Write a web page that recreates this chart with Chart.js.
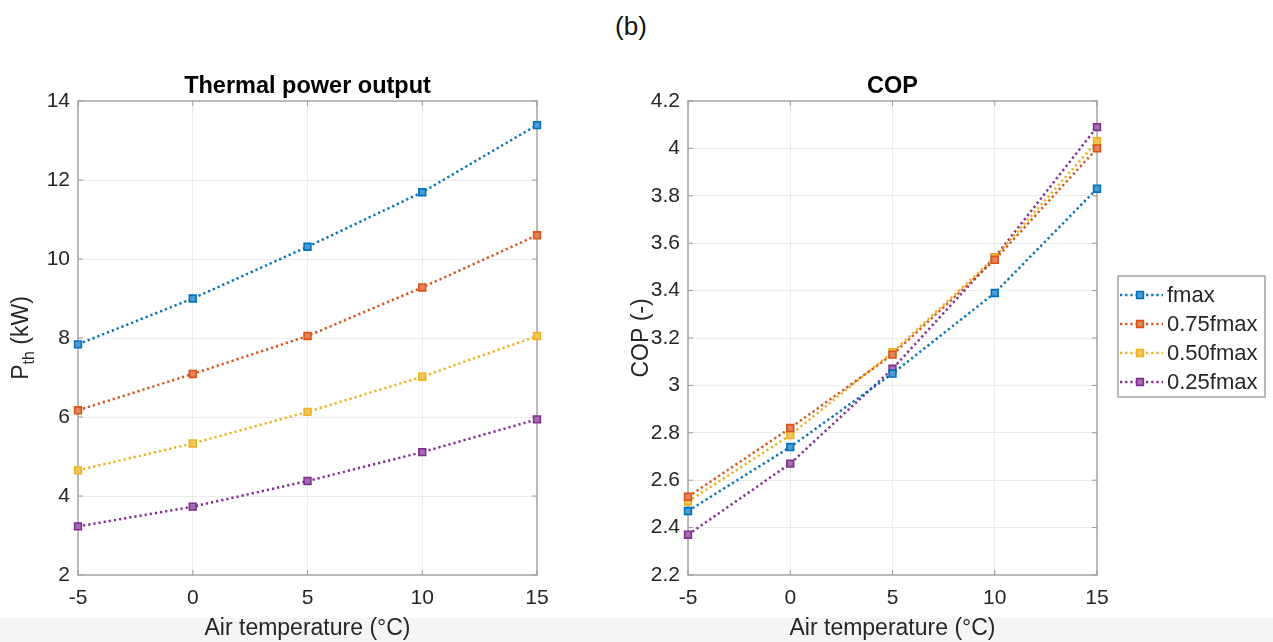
<!DOCTYPE html>
<html><head><meta charset="utf-8">
<script src="https://cdn.jsdelivr.net/npm/chart.js@4/dist/chart.umd.min.js"></script>
<style>
html,body{margin:0;padding:0;background:#fff;width:1273px;height:642px;overflow:hidden;font-family:"Liberation Sans",Arial,sans-serif;}
#band{position:absolute;left:0;top:618px;width:1273px;height:24px;background:#f5f5f5;}
#lbl{position:absolute;left:0;width:1262px;top:11px;text-align:center;font-size:26px;line-height:30px;color:#111;}
canvas{position:absolute;top:0;}
</style></head><body>
<div id="band"></div>
<div id="lbl">(b)</div>
<canvas id="c1" width="600" height="642" style="left:0"></canvas>
<canvas id="c2" width="673" height="642" style="left:600px"></canvas>
<script>
// ---- data ----
const temperatures = [-5, 0, 5, 10, 15];
const seriesNames = ['fmax', '0.75fmax', '0.50fmax', '0.25fmax'];
const seriesColors = ['#0072BD', '#D95319', '#EDB120', '#7E2F8E'];
const markerFills = ['#4d9bd1', '#e4855c', '#f2c65f', '#a56cb0'];

const powerFmax = [7.84, 9.00, 10.31, 11.69, 13.39];
const power075 = [6.17, 7.09, 8.05, 9.28, 10.60];
const power050 = [4.65, 5.33, 6.13, 7.02, 8.05];
const power025 = [3.23, 3.73, 4.38, 5.11, 5.94];

const copFmax = [2.47, 2.74, 3.05, 3.39, 3.83];
const cop075 = [2.53, 2.82, 3.13, 3.53, 4.00];
const cop050 = [2.51, 2.79, 3.14, 3.54, 4.03];
const cop025 = [2.37, 2.67, 3.07, 3.54, 4.09];

const xTicks = [-5, 0, 5, 10, 15];
const yTicksPower = [2, 4, 6, 8, 10, 12, 14];
const yTicksCop = [2.2, 2.4, 2.6, 2.8, 3.0, 3.2, 3.4, 3.6, 3.8, 4.0, 4.2];

// ---- helpers ----
const FONT = '"Liberation Sans", Arial, sans-serif';
const TXT = '#262626';

function makeDatasets(seriesList) {
  return seriesList.map((vals, i) => ({
    label: seriesNames[i],
    data: temperatures.map((t, j) => ({x: t, y: vals[j]})),
    borderColor: seriesColors[i],
    backgroundColor: markerFills[i],
    pointBackgroundColor: markerFills[i],
    pointBorderColor: seriesColors[i],
    borderWidth: 2.5,
    borderDash: [2.2, 3],
    pointStyle: 'rect',
    pointRadius: 4.8,
    pointBorderWidth: 1.6,
    tension: 0,
    clip: false
  }));
}

const boxPlugin = {
  id: 'boxPlugin',
  beforeDatasetsDraw(chart) {
    const {ctx, chartArea: a} = chart;
    ctx.save();
    ctx.strokeStyle = '#a8a8a8';
    ctx.lineWidth = 1.5;
    ctx.strokeRect(a.left, a.top, a.right - a.left, a.bottom - a.top);
    ctx.lineWidth = 1;
    ctx.strokeStyle = '#9a9a9a';
    const xs = chart.scales.x, ys = chart.scales.y;
    xs.ticks.forEach(t => {
      const px = xs.getPixelForValue(t.value);
      ctx.beginPath();
      ctx.moveTo(px, a.bottom); ctx.lineTo(px, a.bottom - 5);
      ctx.moveTo(px, a.top); ctx.lineTo(px, a.top + 5);
      ctx.stroke();
    });
    ys.ticks.forEach(t => {
      const py = ys.getPixelForValue(t.value);
      ctx.beginPath();
      ctx.moveTo(a.left, py); ctx.lineTo(a.left + 5, py);
      ctx.moveTo(a.right, py); ctx.lineTo(a.right - 5, py);
      ctx.stroke();
    });
    ctx.restore();
  }
};

function yTitlePlugin(cx, parts) {
  return {
    id: 'yTitle',
    afterDraw(chart) {
      const {ctx, chartArea: a} = chart;
      const cy = (a.top + a.bottom) / 2;
      ctx.save();
      ctx.translate(cx, cy);
      ctx.rotate(-Math.PI / 2);
      ctx.fillStyle = TXT;
      ctx.textBaseline = 'middle';
      ctx.textAlign = 'left';
      let total = 0;
      parts.forEach(p => { ctx.font = p.size + 'px ' + FONT; p.w = ctx.measureText(p.text).width; total += p.w; });
      let x = -total / 2;
      parts.forEach(p => {
        ctx.font = p.size + 'px ' + FONT;
        ctx.fillText(p.text, x, p.dy || 0);
        x += p.w;
      });
      ctx.restore();
    }
  };
}

const legendPlugin = {
  id: 'boxLegend',
  afterDraw(chart) {
    const {ctx} = chart;
    const bx = 1118 - 600, by = 276, bw = 147, bh = 121;
    ctx.save();
    ctx.fillStyle = '#fff';
    ctx.fillRect(bx, by, bw, bh);
    ctx.strokeStyle = '#8a8a8a';
    ctx.lineWidth = 1.2;
    ctx.strokeRect(bx, by, bw, bh);
    chart.data.datasets.forEach((ds, i) => {
      const y = by + 19 + i * 29;
      ctx.strokeStyle = ds.borderColor;
      ctx.lineWidth = 2.5;
      ctx.setLineDash([2.2, 3]);
      ctx.beginPath();
      ctx.moveTo(bx + 2, y); ctx.lineTo(bx + 45, y);
      ctx.stroke();
      ctx.setLineDash([]);
      ctx.fillStyle = ds.pointBackgroundColor;
      ctx.lineWidth = 1.6;
      ctx.beginPath();
      ctx.rect(bx + 22 - 3.4, y - 3.4, 6.8, 6.8);
      ctx.fill(); ctx.stroke();
      ctx.fillStyle = TXT;
      ctx.font = '22px ' + FONT;
      ctx.textBaseline = 'middle';
      ctx.textAlign = 'left';
      ctx.fillText(ds.label, bx + 49, y + 1);
    });
    ctx.restore();
  }
};

function makeOptions(titleText, yTicks, yWidth, rightPad, fmt) {
  return {
    responsive: false,
    animation: false,
    devicePixelRatio: 1,
    layout: {padding: {left: 0, right: rightPad, top: 0, bottom: 0}},
    plugins: {
      legend: {display: false},
      tooltip: {enabled: false},
      title: {
        display: true, text: titleText, fullSize: false,
        color: '#000', font: {family: FONT, size: 23.5, weight: 'bold'},
        padding: {top: 72, bottom: 0.8}
      }
    },
    scales: {
      x: {
        type: 'linear', min: -5, max: 15,
        afterBuildTicks: s => { s.ticks = xTicks.map(v => ({value: v})); },
        afterFit: s => { s.height = 67; },
        grid: {color: '#ebebeb', lineWidth: 1, drawTicks: false},
        border: {display: false},
        ticks: {color: TXT, font: {family: FONT, size: 21}, padding: 11, maxRotation: 0},
        title: {display: true, text: 'Air temperature (°C)', color: TXT, font: {family: FONT, size: 23}, padding: {top: 0, bottom: 0}}
      },
      y: {
        type: 'linear', min: yTicks[0], max: yTicks[yTicks.length - 1],
        afterBuildTicks: s => { s.ticks = yTicks.map(v => ({value: v})); },
        afterFit: s => { s.width = yWidth; },
        grid: {color: '#ebebeb', lineWidth: 1, drawTicks: false},
        border: {display: false},
        ticks: {color: TXT, font: {family: FONT, size: 21}, padding: 8, callback: fmt}
      }
    }
  };
}

new Chart(document.getElementById('c1'), {
  type: 'line',
  data: {datasets: makeDatasets([powerFmax, power075, power050, power025])},
  options: makeOptions('Thermal power output', yTicksPower, 78, 600 - 537, v => String(v)),
  plugins: [boxPlugin, yTitlePlugin(22, [{text: 'P', size: 23}, {text: 'th', size: 16, dy: 8}, {text: ' (kW)', size: 23}])]
});

new Chart(document.getElementById('c2'), {
  type: 'line',
  data: {datasets: makeDatasets([copFmax, cop075, cop050, cop025])},
  options: makeOptions('COP', yTicksCop, 88, 673 - 497, v => String(Math.round(v * 10) / 10)),
  plugins: [boxPlugin, yTitlePlugin(42, [{text: 'COP (-)', size: 23}]), legendPlugin]
});
</script>
</body></html>
